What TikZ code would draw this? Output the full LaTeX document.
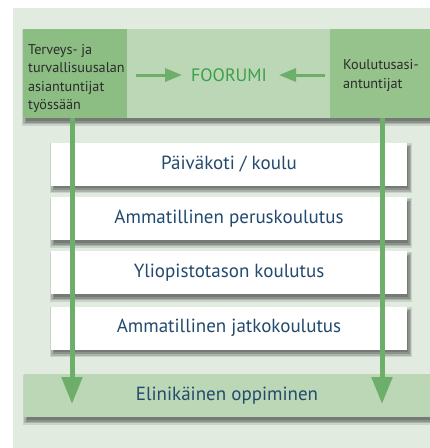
\documentclass[tikz,border=0pt]{standalone}
\usepackage{fontspec}
\setmainfont{PT Sans}
\usetikzlibrary{arrows.meta}
\pgfdeclarelayer{background}
\pgfsetlayers{background,main}
\definecolor{bg}{HTML}{E1EBE0}
\definecolor{dkgreenL}{HTML}{8CBD83}
\definecolor{dkgreenR}{HTML}{96C28C}
\definecolor{ltgreen}{HTML}{BCD7B5}
\definecolor{linegreen}{HTML}{6DAE6B}
\definecolor{forumgreen}{HTML}{3D9F48}
\definecolor{bluetext}{HTML}{234A6E}
\definecolor{darktext}{HTML}{2B2B2B}
\colorlet{shadowA}{bg!90!black}
\colorlet{shadowB}{bg!76!black}
\colorlet{shadowC}{bg!62!black}
\colorlet{shadowD}{bg!52!black}
\newcommand\boxshadow[1]{%
  \fill[shadowA] ([shift={(-0.5pt,-1pt)}]#1.north west) rectangle ([shift={(5pt,-7.5pt)}]#1.south east);
  \fill[shadowB] ([shift={(0.5pt,-2.5pt)}]#1.north west) rectangle ([shift={(3.5pt,-6pt)}]#1.south east);
  \fill[shadowC] ([shift={(2pt,-4pt)}]#1.north west) rectangle ([shift={(2.5pt,-4.5pt)}]#1.south east);
  \fill[shadowD] ([shift={(3.5pt,-5.5pt)}]#1.north west) rectangle ([shift={(1pt,-2.5pt)}]#1.south east);}
\tikzset{
  stagebox/.style={fill=white, minimum width=356pt, minimum height=43pt, inner sep=0pt,
     text=bluetext, font=\fontsize{19}{22}\selectfont},
  sidebox/.style={inner sep=0pt, minimum height=89pt},
  sidetext/.style={inner sep=0pt, align=left, text=darktext, anchor=west,
     font=\fontsize{14.2}{18.3}\selectfont},
  flowline/.style={draw=linegreen, line width=5pt, -{Triangle[width=20pt,length=27pt]}},
  forumarrow/.style={draw=linegreen, line width=3pt, -{Triangle[width=13pt,length=17pt]}}
}
\begin{document}
\begin{tikzpicture}[x=1pt,y=-1pt]
\useasboundingbox (0,0) rectangle (430,448);
% top band
\node[fill=ltgreen, minimum width=407pt, minimum height=89pt, inner sep=0pt] (band) at (226.5,73.5) {};
\node[sidebox, fill=dkgreenL, minimum width=104pt] (leftbox) at (75,73.5) {};
\node[sidebox, fill=dkgreenR, minimum width=100pt] (rightbox) at (380,73.5) {};
\node[sidetext] (lefttext) at (28,78.5) {Terveys- ja\\turvallisuusalan\\asiantuntijat\\työssään};
\node[sidetext] (righttext) at (343,75.5) {Koulutusasi-\\antuntijat};
\node[text=forumgreen, font=\fontsize{18}{21}\selectfont, inner sep=0pt] (forum) at (229,75) {FOORUMI};
\coordinate (fl) at (136,75);
\coordinate (fr) at (325,75);
\draw[forumarrow] (fl) -- (182,75) coordinate (flt);
\draw[forumarrow] (fr) -- (279,75) coordinate (frt);
% stage boxes
\node[stagebox] (b1) at (229,164) {Päiväkoti / koulu};
\node[stagebox] (b2) at (229,218.5) {Ammatillinen peruskoulutus};
\node[stagebox] (b3) at (229,272.5) {Yliopistotason koulutus};
\node[stagebox] (b4) at (229,328) {Ammatillinen jatkokoulutus};
% bottom band
\node[fill=ltgreen, minimum width=406pt, minimum height=43pt, inner sep=0pt,
   text=bluetext, font=\fontsize{19}{22}\selectfont] (life) at (227,395.5) {Elinikäinen oppiminen};
% vertical lines
\coordinate (lt) at (72,404);
\coordinate (rt) at (382,404);
\draw[flowline] (leftbox.south -| lt) -- (lt);
\draw[flowline] (rightbox.south -| rt) -- (rt);
% background and shadows
\begin{pgfonlayer}{background}
\fill[white] (0,0) rectangle (430,448);
\fill[bg] (13,8) rectangle (430,448);
\boxshadow{band}
\boxshadow{b1}
\boxshadow{b2}
\boxshadow{b3}
\boxshadow{b4}
\boxshadow{life}
\end{pgfonlayer}
\end{tikzpicture}
\end{document}
